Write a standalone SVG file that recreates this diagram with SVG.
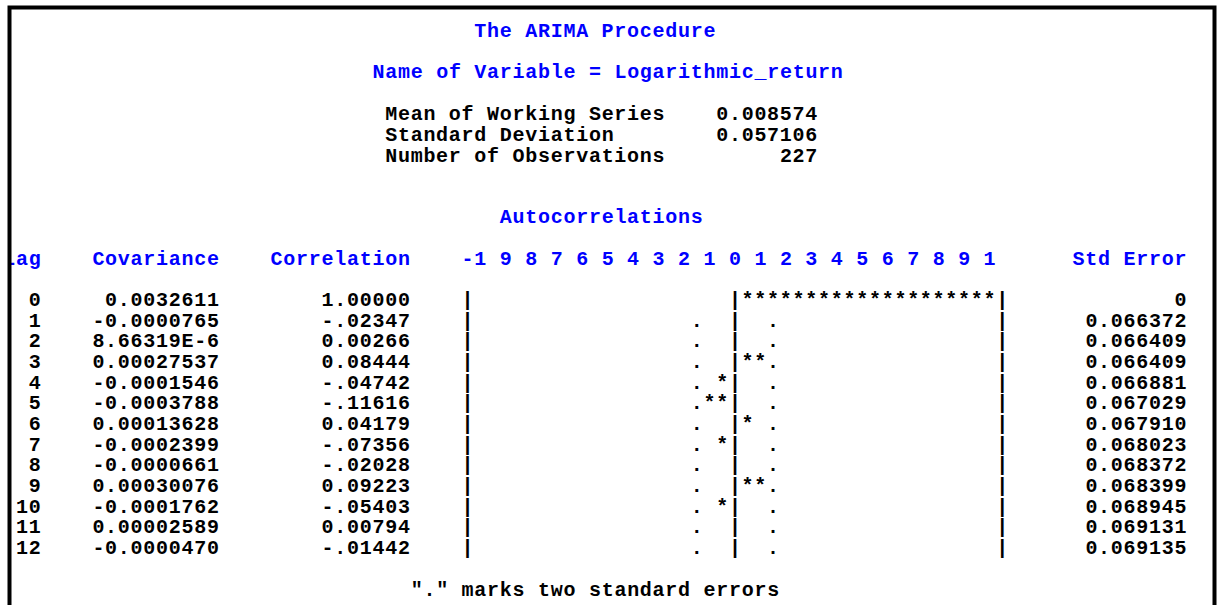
<svg xmlns="http://www.w3.org/2000/svg" width="1221" height="605" viewBox="0 0 1221 605">
<style>
text{font-family:"Liberation Mono","DejaVu Sans Mono",monospace;font-weight:bold;font-size:20px;letter-spacing:0.73px}
.b{fill:#0000ff}
.k{fill:#000}
</style>
<defs><clipPath id="c"><rect x="11" y="9" width="1202" height="596"/></clipPath></defs>
<rect width="1221" height="605" fill="#fff"/>
<g clip-path="url(#c)">
<g id="titles" class="b">
<text class="b" x="474.3" y="37">The ARIMA Procedure</text>
<text class="b" x="372.5" y="78">Name of Variable = Logarithmic_return</text>
<text class="b" x="499.8" y="223">Autocorrelations</text>
</g>
<g id="summary">
<text class="k" x="385.2" y="120">Mean of Working Series</text>
<text class="k" x="385.2" y="141">Standard Deviation</text>
<text class="k" x="385.2" y="162">Number of Observations</text>
<text class="k" x="716.2" y="120">0.008574</text>
<text class="k" x="716.2" y="141">0.057106</text>
<text class="k" x="779.9" y="162">227</text>
</g>
<g id="header">
<text class="b" x="3.3" y="265">Lag</text>
<text class="b" x="92.4" y="265">Covariance</text>
<text class="b" x="270.6" y="265">Correlation</text>
<text class="b" x="461.6" y="265">-1 9 8 7 6 5 4 3 2 1 0 1 2 3 4 5 6 7 8 9 1</text>
<text class="b" x="1072.6" y="265">Std Error</text>
</g>
<g id="lag">
<text class="k" x="28.8" y="306">0</text>
<text class="k" x="28.8" y="326.7">1</text>
<text class="k" x="28.8" y="347.3">2</text>
<text class="k" x="28.8" y="368">3</text>
<text class="k" x="28.8" y="388.7">4</text>
<text class="k" x="28.8" y="409.4">5</text>
<text class="k" x="28.8" y="430">6</text>
<text class="k" x="28.8" y="450.7">7</text>
<text class="k" x="28.8" y="471.4">8</text>
<text class="k" x="28.8" y="492">9</text>
<text class="k" x="16" y="512.7">10</text>
<text class="k" x="16" y="533.4">11</text>
<text class="k" x="16" y="554">12</text>
</g>
<g id="covariance">
<text class="k" x="105.1" y="306">0.0032611</text>
<text class="k" x="92.4" y="326.7">-0.0000765</text>
<text class="k" x="92.4" y="347.3">8.66319E-6</text>
<text class="k" x="92.4" y="368">0.00027537</text>
<text class="k" x="92.4" y="388.7">-0.0001546</text>
<text class="k" x="92.4" y="409.4">-0.0003788</text>
<text class="k" x="92.4" y="430">0.00013628</text>
<text class="k" x="92.4" y="450.7">-0.0002399</text>
<text class="k" x="92.4" y="471.4">-0.0000661</text>
<text class="k" x="92.4" y="492">0.00030076</text>
<text class="k" x="92.4" y="512.7">-0.0001762</text>
<text class="k" x="92.4" y="533.4">0.00002589</text>
<text class="k" x="92.4" y="554">-0.0000470</text>
</g>
<g id="correlation">
<text class="k" x="321.6" y="306">1.00000</text>
<text class="k" x="321.6" y="326.7">-.02347</text>
<text class="k" x="321.6" y="347.3">0.00266</text>
<text class="k" x="321.6" y="368">0.08444</text>
<text class="k" x="321.6" y="388.7">-.04742</text>
<text class="k" x="321.6" y="409.4">-.11616</text>
<text class="k" x="321.6" y="430">0.04179</text>
<text class="k" x="321.6" y="450.7">-.07356</text>
<text class="k" x="321.6" y="471.4">-.02028</text>
<text class="k" x="321.6" y="492">0.09223</text>
<text class="k" x="321.6" y="512.7">-.05403</text>
<text class="k" x="321.6" y="533.4">0.00794</text>
<text class="k" x="321.6" y="554">-.01442</text>
</g>
<g id="plot">
<text class="k" x="461.6" y="306">|</text><text class="k" x="728.9" y="306">|********************|</text>
<text class="k" x="461.6" y="326.7">|</text><text class="k" x="690.7" y="326.7">.</text><text class="k" x="728.9" y="326.7">|</text><text class="k" x="767.1" y="326.7">.</text><text class="k" x="996.3" y="326.7">|</text>
<text class="k" x="461.6" y="347.3">|</text><text class="k" x="690.7" y="347.3">.</text><text class="k" x="728.9" y="347.3">|</text><text class="k" x="767.1" y="347.3">.</text><text class="k" x="996.3" y="347.3">|</text>
<text class="k" x="461.6" y="368">|</text><text class="k" x="690.7" y="368">.</text><text class="k" x="728.9" y="368">|**.</text><text class="k" x="996.3" y="368">|</text>
<text class="k" x="461.6" y="388.7">|</text><text class="k" x="690.7" y="388.7">. *|</text><text class="k" x="767.1" y="388.7">.</text><text class="k" x="996.3" y="388.7">|</text>
<text class="k" x="461.6" y="409.4">|</text><text class="k" x="690.7" y="409.4">.**|</text><text class="k" x="767.1" y="409.4">.</text><text class="k" x="996.3" y="409.4">|</text>
<text class="k" x="461.6" y="430">|</text><text class="k" x="690.7" y="430">.</text><text class="k" x="728.9" y="430">|*</text><text class="k" x="767.1" y="430">.</text><text class="k" x="996.3" y="430">|</text>
<text class="k" x="461.6" y="450.7">|</text><text class="k" x="690.7" y="450.7">. *|</text><text class="k" x="767.1" y="450.7">.</text><text class="k" x="996.3" y="450.7">|</text>
<text class="k" x="461.6" y="471.4">|</text><text class="k" x="690.7" y="471.4">.</text><text class="k" x="728.9" y="471.4">|</text><text class="k" x="767.1" y="471.4">.</text><text class="k" x="996.3" y="471.4">|</text>
<text class="k" x="461.6" y="492">|</text><text class="k" x="690.7" y="492">.</text><text class="k" x="728.9" y="492">|**.</text><text class="k" x="996.3" y="492">|</text>
<text class="k" x="461.6" y="512.7">|</text><text class="k" x="690.7" y="512.7">. *|</text><text class="k" x="767.1" y="512.7">.</text><text class="k" x="996.3" y="512.7">|</text>
<text class="k" x="461.6" y="533.4">|</text><text class="k" x="690.7" y="533.4">.</text><text class="k" x="728.9" y="533.4">|</text><text class="k" x="767.1" y="533.4">.</text><text class="k" x="996.3" y="533.4">|</text>
<text class="k" x="461.6" y="554">|</text><text class="k" x="690.7" y="554">.</text><text class="k" x="728.9" y="554">|</text><text class="k" x="767.1" y="554">.</text><text class="k" x="996.3" y="554">|</text>
</g>
<g id="stderr">
<text class="k" x="1174.5" y="306">0</text>
<text class="k" x="1085.4" y="326.7">0.066372</text>
<text class="k" x="1085.4" y="347.3">0.066409</text>
<text class="k" x="1085.4" y="368">0.066409</text>
<text class="k" x="1085.4" y="388.7">0.066881</text>
<text class="k" x="1085.4" y="409.4">0.067029</text>
<text class="k" x="1085.4" y="430">0.067910</text>
<text class="k" x="1085.4" y="450.7">0.068023</text>
<text class="k" x="1085.4" y="471.4">0.068372</text>
<text class="k" x="1085.4" y="492">0.068399</text>
<text class="k" x="1085.4" y="512.7">0.068945</text>
<text class="k" x="1085.4" y="533.4">0.069131</text>
<text class="k" x="1085.4" y="554">0.069135</text>
</g>
<g id="footer">
<text class="k" x="410.7" y="596">"." marks two standard errors</text>
</g>
</g>
<path id="frame" d="M9.5,605 V7.5 H1214.5 V605" fill="none" stroke="#000" stroke-width="4"/>
</svg>
